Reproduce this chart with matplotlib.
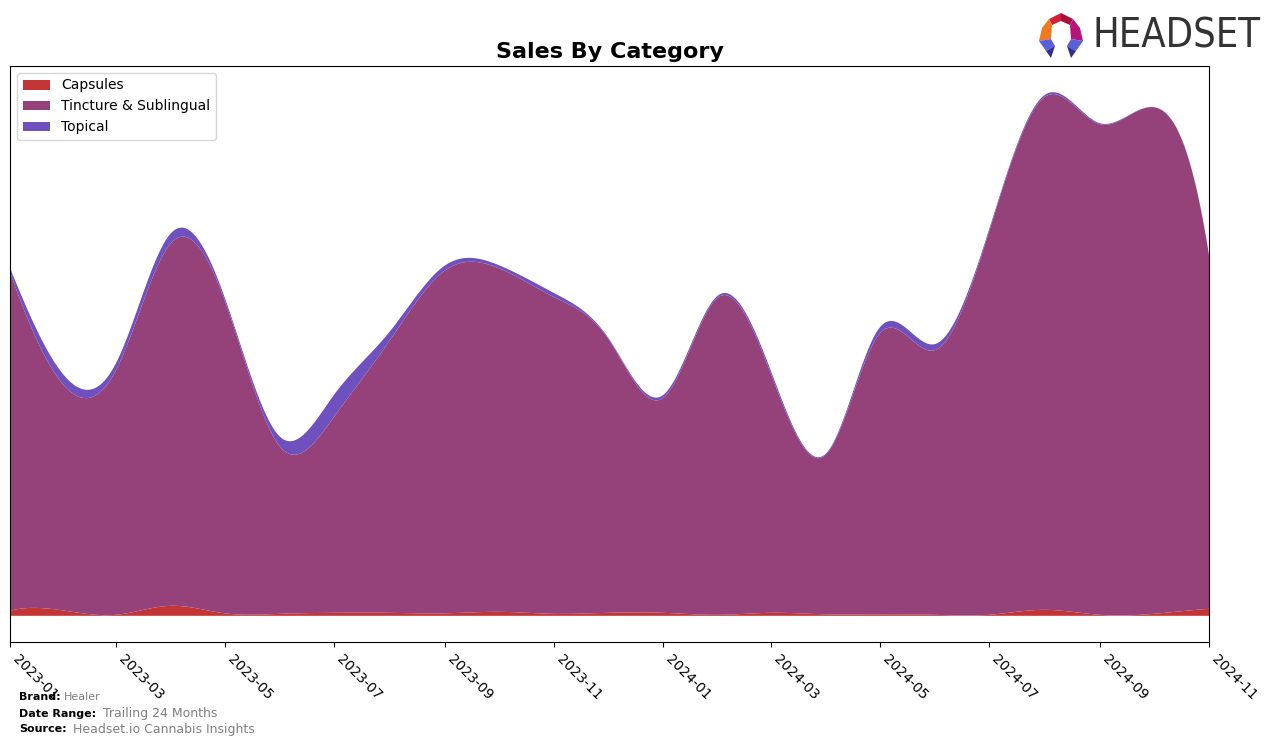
import matplotlib
matplotlib.use('Agg')
import matplotlib.pyplot as plt
import matplotlib.dates as mdates
from matplotlib import font_manager as fm
from matplotlib.patches import Polygon
import numpy as np
import pandas as pd

# monthly sales (relative units)
months = pd.date_range('2023-01-01', '2024-11-01', freq='MS')
capsules = [5, 5, 1, 10, 2.5, 2, 3, 3, 2.5, 4, 2, 3,
            3, 1, 3, 1.5, 1.5, 1, 1, 6, 1, 2, 7]
tincture = [339, 224, 244, 363, 313, 167, 196, 272, 343, 344, 317, 275,
            215, 318, 240, 160, 281, 265, 383, 513, 491, 507, 354]
topical = [4, 10, 7, 10, 3, 10, 22, 9, 5, 3, 4, 1,
           3, 2, 3, 1, 6, 6, 2, 2, 1, 0, 0]

labels = ['Capsules', 'Tincture & Sublingual', 'Topical']
colors = ['#C33535', '#96427A', '#6E50BE']


def spline(x, y, xs):
    # cubic spline with not-a-knot ends
    x = np.asarray(x, float)
    y = np.asarray(y, float)
    n = len(x)
    h = np.diff(x)
    A = np.zeros((n, n))
    b = np.zeros(n)
    for i in range(1, n - 1):
        A[i, i - 1] = h[i - 1]
        A[i, i] = 2 * (h[i - 1] + h[i])
        A[i, i + 1] = h[i]
        b[i] = 6 * ((y[i + 1] - y[i]) / h[i] - (y[i] - y[i - 1]) / h[i - 1])
    A[0, 0], A[0, 1], A[0, 2] = h[1], -(h[0] + h[1]), h[0]
    A[-1, -3], A[-1, -2], A[-1, -1] = h[-1], -(h[-2] + h[-1]), h[-2]
    M = np.linalg.solve(A, b)
    idx = np.clip(np.searchsorted(x, xs) - 1, 0, n - 2)
    x0, x1 = x[idx], x[idx + 1]
    hh = x1 - x0
    t0 = x1 - xs
    t1 = xs - x0
    return (M[idx] * t0 ** 3 / (6 * hh) + M[idx + 1] * t1 ** 3 / (6 * hh)
            + (y[idx] / hh - M[idx] * hh / 6) * t0
            + (y[idx + 1] / hh - M[idx + 1] * hh / 6) * t1)


xd = mdates.date2num(months)
xs = np.linspace(xd[0], xd[-1], 1500)
smooth = [spline(xd, s, xs) for s in (capsules, tincture, topical)]

fig = plt.figure(figsize=(12.76, 7.45), dpi=100)
ax = fig.add_axes([10 / 1276, 1 - 642 / 745, 1199 / 1276, 576 / 745])

ax.stackplot(mdates.num2date(xs), smooth, labels=labels, colors=colors)

top = np.max(np.sum(smooth, axis=0))
ax.set_ylim(-0.05 * top, 1.05 * top)
ax.set_xlim(mdates.num2date(xd[0]), mdates.num2date(xd[-1]))
ax.set_yticks([])
ax.xaxis.set_major_locator(mdates.MonthLocator(bymonth=[1, 3, 5, 7, 9, 11]))
ax.xaxis.set_major_formatter(mdates.DateFormatter('%Y-%m'))
plt.setp(ax.get_xticklabels(), rotation=-45, ha='left', fontsize=10)

ax.set_title('Sales By Category', fontsize=16, fontweight='bold')
ax.legend(loc='upper left', fontsize=10)

# footer
fig.text(19 / 1276, 1 - 697 / 745, 'Brand:', fontsize=8, fontweight='bold', va='center')
fig.text(64 / 1276, 1 - 697 / 745, 'Healer', fontsize=8, color='grey', va='center')
fig.text(19 / 1276, 1 - 714 / 745, 'Date Range:', fontsize=8, fontweight='bold', va='center')
fig.text(103 / 1276, 1 - 714 / 745, 'Trailing 24 Months', fontsize=9, color='grey', va='center')
fig.text(19 / 1276, 1 - 729 / 745, 'Source:', fontsize=8, fontweight='bold', va='center')
fig.text(73 / 1276, 1 - 729 / 745, 'Headset.io Cannabis Insights', fontsize=9, color='grey', va='center')

# logo: prefer a narrow face if one is installed
logo_font = fm.FontProperties(family=['Roboto', 'DejaVu Sans'])
for f in fm.fontManager.ttflist:
    if ('Narrow' in f.name or 'Condensed' in f.name or f.stretch in ('condensed', 'semi-condensed')) \
            and f.weight in (400, 'normal', 'regular') and f.style == 'normal':
        logo_font = fm.FontProperties(fname=f.fname)
        break
logo = fig.text(1092 / 1276, 1 - 37 / 745, 'HEADSET', fontsize=37, color='#333333', va='center',
                fontproperties=logo_font)
logo.set_fontsize(37)
fig.canvas.draw()
w = logo.get_window_extent().width
logo.set_fontsize(37 * 168 / w)

lax = fig.add_axes([1036 / 1276, 1 - 60 / 745, 50 / 1276, 48 / 745])
lax.set_xlim(0, 50)
lax.set_ylim(48, 0)
lax.axis('off')
pieces = [
    ([(13, 7), (25, 1), (25, 9), (16, 13)], '#D81F3A'),
    ([(25, 1), (37, 7), (34, 13), (25, 9)], '#A5123F'),
    ([(13, 7), (16, 13), (15, 27), (3, 29), (6, 16)], '#F07A22'),
    ([(37, 7), (34, 13), (35, 27), (47, 29), (44, 16)], '#B6147A'),
    ([(3, 29), (15, 27), (19, 34), (10, 39)], '#5B5FD9'),
    ([(10, 39), (19, 34), (15, 46)], '#2E2F8F'),
    ([(47, 29), (35, 27), (31, 34), (40, 39)], '#5B5FD9'),
    ([(40, 39), (31, 34), (35, 46)], '#2E2F8F'),
]
for pts, col in pieces:
    lax.add_patch(Polygon(pts, closed=True, color=col, lw=0))

fig.savefig('out.png', dpi=100)
